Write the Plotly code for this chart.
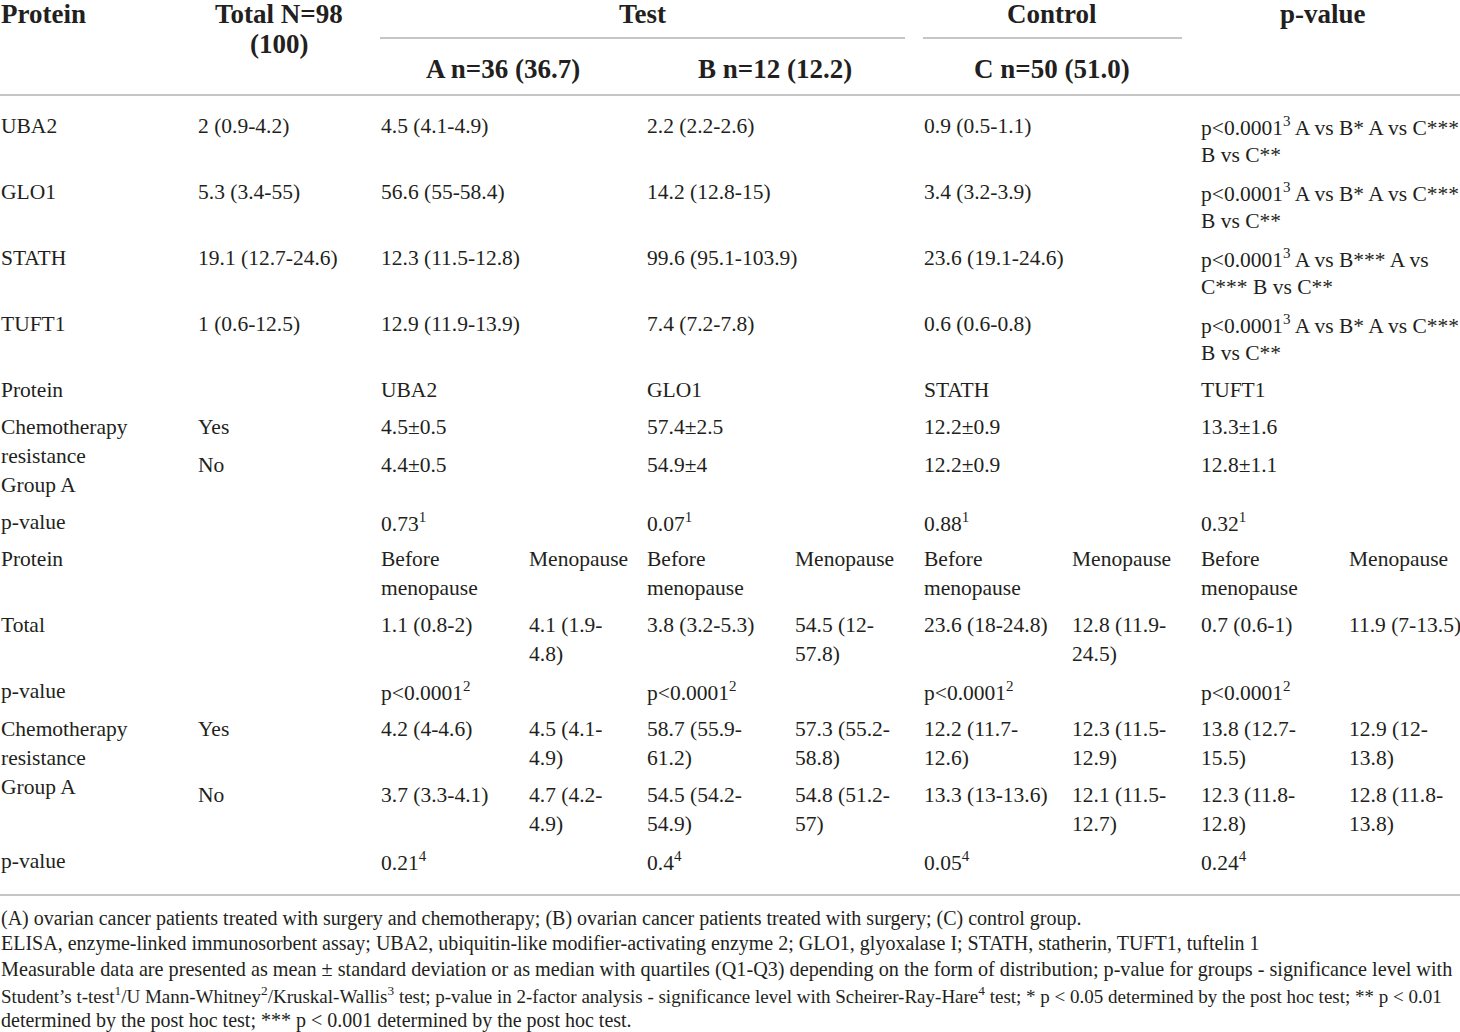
import plotly.graph_objects as go

W, H = 1460, 1032
FONT = "Liberation Serif"
INK = "#231f20"
RULE = "#c6c6c6"

# ---------------- data ----------------
head_top = ["Protein", "Total N=98<br>(100)", "Test", "Control", "p-value"]
head_sub = ["A n=36 (36.7)", "B n=12 (12.2)", "C n=50 (51.0)"]

proteins = ["UBA2", "GLO1", "STATH", "TUFT1"]
total_all = ["2 (0.9-4.2)", "5.3 (3.4-55)", "19.1 (12.7-24.6)", "1 (0.6-12.5)"]
group_a = ["4.5 (4.1-4.9)", "56.6 (55-58.4)", "12.3 (11.5-12.8)", "12.9 (11.9-13.9)"]
group_b = ["2.2 (2.2-2.6)", "14.2 (12.8-15)", "99.6 (95.1-103.9)", "7.4 (7.2-7.8)"]
group_c = ["0.9 (0.5-1.1)", "3.4 (3.2-3.9)", "23.6 (19.1-24.6)", "0.6 (0.6-0.8)"]
group_p = [
    "p&lt;0.0001<sup>3</sup> A vs B* A vs C***<br>B vs C**",
    "p&lt;0.0001<sup>3</sup> A vs B* A vs C***<br>B vs C**",
    "p&lt;0.0001<sup>3</sup> A vs B*** A vs<br>C*** B vs C**",
    "p&lt;0.0001<sup>3</sup> A vs B* A vs C***<br>B vs C**",
]

chemo_label = "Chemotherapy<br>resistance<br>Group A"
chemo_yes = ["4.5±0.5", "57.4±2.5", "12.2±0.9", "13.3±1.6"]
chemo_no = ["4.4±0.5", "54.9±4", "12.2±0.9", "12.8±1.1"]
chemo_p = ["0.73<sup>1</sup>", "0.07<sup>1</sup>", "0.88<sup>1</sup>", "0.32<sup>1</sup>"]

meno_head = ["Before<br>menopause", "Menopause"]
meno_total_before = ["1.1 (0.8-2)", "3.8 (3.2-5.3)", "23.6 (18-24.8)", "0.7 (0.6-1)"]
meno_total_after = ["4.1 (1.9-<br>4.8)", "54.5 (12-<br>57.8)", "12.8 (11.9-<br>24.5)", "11.9 (7-13.5)"]
meno_total_p = ["p&lt;0.0001<sup>2</sup>"] * 4
meno_yes_before = ["4.2 (4-4.6)", "58.7 (55.9-<br>61.2)", "12.2 (11.7-<br>12.6)", "13.8 (12.7-<br>15.5)"]
meno_yes_after = ["4.5 (4.1-<br>4.9)", "57.3 (55.2-<br>58.8)", "12.3 (11.5-<br>12.9)", "12.9 (12-<br>13.8)"]
meno_no_before = ["3.7 (3.3-4.1)", "54.5 (54.2-<br>54.9)", "13.3 (13-13.6)", "12.3 (11.8-<br>12.8)"]
meno_no_after = ["4.7 (4.2-<br>4.9)", "54.8 (51.2-<br>57)", "12.1 (11.5-<br>12.7)", "12.8 (11.8-<br>13.8)"]
meno_factor_p = ["0.21<sup>4</sup>", "0.4<sup>4</sup>", "0.05<sup>4</sup>", "0.24<sup>4</sup>"]

footnotes = [
    "(A) ovarian cancer patients treated with surgery and chemotherapy; (B) ovarian cancer patients treated with surgery; (C) control group.",
    "ELISA, enzyme-linked immunosorbent assay; UBA2, ubiquitin-like modifier-activating enzyme 2; GLO1, glyoxalase I; STATH, statherin, TUFT1, tuftelin 1",
    "Measurable data are presented as mean ± standard deviation or as median with quartiles (Q1-Q3) depending on the form of distribution; p-value for groups - significance level with",
    "Student’s t-test<sup>1</sup>/U Mann-Whitney<sup>2</sup>/Kruskal-Wallis<sup>3</sup> test; p-value in 2-factor analysis - significance level with Scheirer-Ray-Hare<sup>4</sup> test; * p &lt; 0.05 determined by the post hoc test; ** p &lt; 0.01",
    "determined by the post hoc test; *** p &lt; 0.001 determined by the post hoc test.",
]

# ---------------- layout geometry ----------------
HEAD_SIZE, BODY_SIZE = 27, 21.5
NOTE_SIZES = [20, 20, 20.2, 19.0, 20]
BODY_LH, HEAD_LH = 28.8, 30

COL = [0, 197, 380, 528, 646, 794, 923, 1071, 1200, 1348]
VAL_COLS = [COL[2], COL[4], COL[6], COL[8]]
AFTER_COLS = [COL[3], COL[5], COL[7], COL[9]]

fig = go.Figure()
annotations = []


def cell(x, y, text, size=BODY_SIZE, bold=False, anchor="left", lh=BODY_LH):
    for i, line in enumerate(text.split("<br>")):
        t = f"<b>{line}</b>" if bold else line
        annotations.append(dict(
            x=x, y=y + i * lh, xref="x", yref="y", text=t, showarrow=False,
            xanchor=anchor, yanchor="middle", align=anchor, borderpad=0,
            font=dict(family=FONT, size=size, color=INK),
        ))


# header
HY = 14
cell(COL[0], HY, head_top[0], HEAD_SIZE, True, "left", HEAD_LH)
cell(279, HY, head_top[1], HEAD_SIZE, True, "center", HEAD_LH)
cell(642, HY, head_top[2], HEAD_SIZE, True, "center", HEAD_LH)
cell(1052, HY, head_top[3], HEAD_SIZE, True, "center", HEAD_LH)
cell(1323, HY, head_top[4], HEAD_SIZE, True, "center", HEAD_LH)
for xc, t in zip([503, 775, 1052], head_sub):
    cell(xc, 69, t, HEAD_SIZE, True, "center")

# section 1: medians by group
sec1_y = [126, 192, 258, 324]
for i, y in enumerate(sec1_y):
    cell(COL[0], y, proteins[i])
    cell(COL[1], y, total_all[i])
    cell(COL[2], y, group_a[i])
    cell(COL[4], y, group_b[i])
    cell(COL[6], y, group_c[i])
    cell(COL[8], y, group_p[i])

# section 2: chemotherapy resistance (mean ± SD)
cell(COL[0], 390, "Protein")
for x, p in zip(VAL_COLS, proteins):
    cell(x, 390, p)
cell(COL[0], 427, chemo_label)
cell(COL[1], 427, "Yes")
cell(COL[1], 465, "No")
for j, x in enumerate(VAL_COLS):
    cell(x, 427, chemo_yes[j])
    cell(x, 465, chemo_no[j])
    cell(x, 522, chemo_p[j])
cell(COL[0], 522, "p-value")

# section 3: menopause
cell(COL[0], 559, "Protein")
cell(COL[0], 625, "Total")
cell(COL[0], 691, "p-value")
cell(COL[0], 729, chemo_label)
cell(COL[1], 729, "Yes")
cell(COL[1], 795, "No")
cell(COL[0], 861, "p-value")
for j in range(4):
    xb, xa = VAL_COLS[j], AFTER_COLS[j]
    cell(xb, 559, meno_head[0])
    cell(xa, 559, meno_head[1])
    cell(xb, 625, meno_total_before[j])
    cell(xa, 625, meno_total_after[j])
    cell(xb, 691, meno_total_p[j])
    cell(xb, 729, meno_yes_before[j])
    cell(xa, 729, meno_yes_after[j])
    cell(xb, 795, meno_no_before[j])
    cell(xa, 795, meno_no_after[j])
    cell(xb, 861, meno_factor_p[j])

# footnotes
note_y = [918, 943.5, 969, 994.5, 1020]
for y, t, s in zip(note_y, footnotes, NOTE_SIZES):
    cell(0, y, t, s)

# rules
shapes = [
    dict(type="line", xref="x", yref="y", x0=380, x1=905, y0=38, y1=38, line=dict(color=RULE, width=2)),
    dict(type="line", xref="x", yref="y", x0=923, x1=1182, y0=38, y1=38, line=dict(color=RULE, width=2)),
    dict(type="line", xref="x", yref="y", x0=0, x1=W, y0=95, y1=95, line=dict(color=RULE, width=2)),
    dict(type="line", xref="x", yref="y", x0=0, x1=W, y0=895, y1=895, line=dict(color=RULE, width=2)),
]

fig.update_layout(
    width=W, height=H, margin=dict(l=0, r=0, t=0, b=0),
    paper_bgcolor="white", plot_bgcolor="white",
    xaxis=dict(range=[0, W], visible=False, fixedrange=True),
    yaxis=dict(range=[H, 0], visible=False, fixedrange=True),
    annotations=annotations, shapes=shapes, showlegend=False,
)

fig.write_html("out.html", config={"displayModeBar": False},
               post_script="document.body.style.margin='0';")
